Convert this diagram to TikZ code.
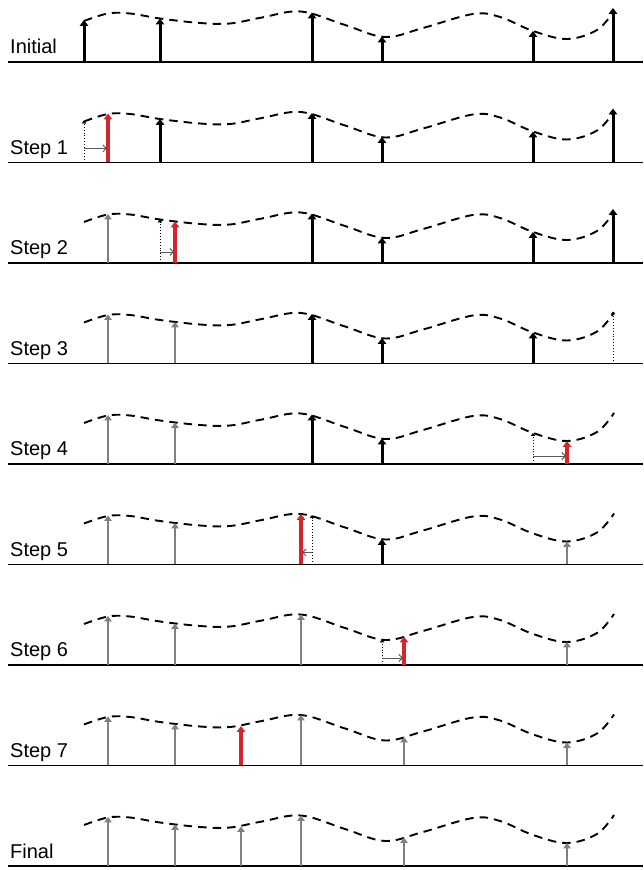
\documentclass[tikz,border=0pt]{standalone}
\usepackage{fontspec}
\setmainfont{Liberation Sans}
\usetikzlibrary{arrows.meta}

\definecolor{movered}{RGB}{214,36,44}
\definecolor{donegray}{RGB}{128,128,128}
\definecolor{shiftgray}{RGB}{90,90,90}

\begin{document}
\begin{tikzpicture}[x=1pt,y=1pt,
    axisline/.style={line width=1.8pt},
    wave/.style={line width=1.9pt, dash pattern=on 8.5pt off 6pt},
    oldstem/.style={line width=3pt, -{Triangle[width=8.5pt,length=6pt]}},
    donestem/.style={donegray, line width=2.7pt, -{Triangle[width=7.5pt,length=5.5pt]}},
    movestem/.style={movered, line width=3.2pt, -{Triangle[width=8.5pt,length=6pt]}},
    ghost/.style={line width=0.9pt, dotted, -{Triangle[width=4.5pt,length=3pt]}},
    shiftarrow/.style={shiftgray, line width=0.9pt, -{Straight Barb[width=7pt,length=3.5pt]}},
    rowlabel/.style={anchor=base west, inner sep=0pt, font=\fontsize{20}{24}\selectfont}]

    \useasboundingbox (0,0) rectangle (643,870);

    % Zeilen: Achse, Beschriftung, gestrichelte Kurve
    \foreach \k/\name in {0/Initial, 1/Step 1, 2/Step 2, 3/Step 3, 4/Step 4,
                          5/Step 5, 6/Step 6, 7/Step 7, 8/Final}
    {
        \pgfmathsetmacro{\base}{808-100.5*\k}
        \begin{scope}[shift={(0,\base)}]
            \draw[axisline] (8,0) -- (643,0);
            \node[rowlabel] (lbl\k) at (10,8) {\name};
            \draw[wave] plot[smooth, tension=0.6] coordinates {
                (84,41) (108,48.5) (130,48.5) (160,43.5) (200,39) (230,38.5)
                (262,44.5) (301,50.5) (345,37) (385,25) (423,34) (473,48)
                (500,45) (533,31) (567,23) (597,32) (614,51)};
        \end{scope}
    }

    % Initial
    \begin{scope}[shift={(0,808)}]
        \foreach \x/\h in {84/42, 160/43.5, 312/49.5, 382/25.5, 533/31, 613/54}
            \draw[oldstem] (\x,0) -- (\x,\h);
    \end{scope}

    % Step 1
    \begin{scope}[shift={(0,707.5)}]
        \foreach \x/\h in {160/43.5, 312/49.5, 382/25.5, 533/31, 613/54}
            \draw[oldstem] (\x,0) -- (\x,\h);
        \draw[ghost] (84,0) -- (84,42);
        \draw[movestem] (108,0) -- (108,49);
        \coordinate (from1) at (84,14);
        \coordinate (to1) at (107,14);
        \draw[shiftarrow] (from1) -- (to1);
    \end{scope}

    % Step 2
    \begin{scope}[shift={(0,607)}]
        \draw[donestem] (108,0) -- (108,49);
        \foreach \x/\h in {312/49.5, 382/25.5, 533/31, 613/54}
            \draw[oldstem] (\x,0) -- (\x,\h);
        \draw[ghost] (160,0) -- (160,43.5);
        \draw[movestem] (175,0) -- (175,41.5);
        \coordinate (from2) at (160,11);
        \coordinate (to2) at (174,11);
        \draw[shiftarrow] (from2) -- (to2);
    \end{scope}

    % Step 3
    \begin{scope}[shift={(0,506.5)}]
        \foreach \x/\h in {108/49, 175/41.5}
            \draw[donestem] (\x,0) -- (\x,\h);
        \foreach \x/\h in {312/49.5, 382/25.5, 533/31}
            \draw[oldstem] (\x,0) -- (\x,\h);
        \draw[ghost] (613,0) -- (613,52);
    \end{scope}

    % Step 4
    \begin{scope}[shift={(0,406)}]
        \foreach \x/\h in {108/49, 175/41.5}
            \draw[donestem] (\x,0) -- (\x,\h);
        \foreach \x/\h in {312/49.5, 382/25.5}
            \draw[oldstem] (\x,0) -- (\x,\h);
        \draw[ghost] (533,0) -- (533,31);
        \draw[movestem] (567,0) -- (567,23);
        \coordinate (from4) at (533,8);
        \coordinate (to4) at (566,8);
        \draw[shiftarrow] (from4) -- (to4);
    \end{scope}

    % Step 5
    \begin{scope}[shift={(0,305.5)}]
        \foreach \x/\h in {108/49, 175/41.5, 567/23}
            \draw[donestem] (\x,0) -- (\x,\h);
        \draw[oldstem] (382,0) -- (382,25.5);
        \draw[ghost] (312,0) -- (312,49.5);
        \draw[movestem] (301,0) -- (301,50.5);
        \coordinate (from5) at (312,12);
        \coordinate (to5) at (302,12);
        \draw[shiftarrow] (from5) -- (to5);
    \end{scope}

    % Step 6
    \begin{scope}[shift={(0,205)}]
        \foreach \x/\h in {108/49, 175/41.5, 301/50.5, 567/23}
            \draw[donestem] (\x,0) -- (\x,\h);
        \draw[ghost] (382,0) -- (382,25.5);
        \draw[movestem] (404,0) -- (404,28.5);
        \coordinate (from6) at (382,7);
        \coordinate (to6) at (403,7);
        \draw[shiftarrow] (from6) -- (to6);
    \end{scope}

    % Step 7
    \begin{scope}[shift={(0,104.5)}]
        \foreach \x/\h in {108/49, 175/41.5, 301/50.5, 404/28.5, 567/23}
            \draw[donestem] (\x,0) -- (\x,\h);
        \draw[movestem] (241,0) -- (241,39.5);
    \end{scope}

    % Final
    \begin{scope}[shift={(0,4)}]
        \foreach \x/\h in {108/49, 175/41.5, 241/39.5, 301/50.5, 404/28.5, 567/23}
            \draw[donestem] (\x,0) -- (\x,\h);
    \end{scope}
\end{tikzpicture}
\end{document}
